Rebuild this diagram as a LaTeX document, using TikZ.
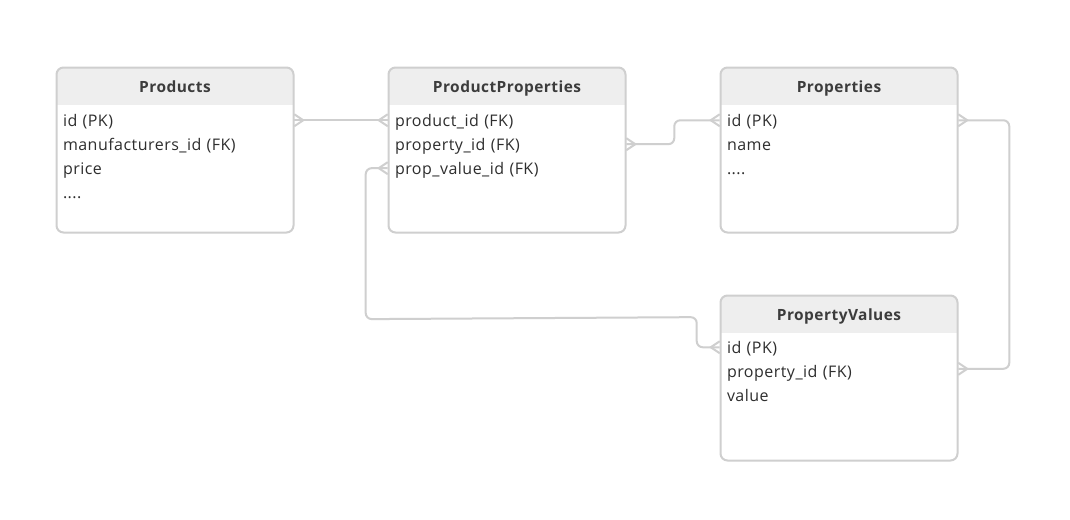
\documentclass[tikz,border=0pt]{standalone}
\usepackage{fontspec}
\setmainfont[LetterSpace=3]{Open Sans}
\usepackage{xcolor}
\usepackage{tikz}
\usetikzlibrary{calc,positioning}
\definecolor{edge}{HTML}{CFCFCF}
\definecolor{headfill}{HTML}{EEEEEE}
\definecolor{ink}{HTML}{2E2E2E}
\definecolor{headink}{HTML}{3C3C3C}
\tikzset{
  entity/.style={draw=edge, line width=1.5pt, rounded corners=5.25pt, inner sep=0pt,
    minimum width=177.75pt, minimum height=123.75pt,
    path picture={\fill[headfill, sharp corners] (path picture bounding box.north west)
      rectangle ([yshift=-28.1pt]path picture bounding box.north east);}},
  title/.style={minimum height=28.1pt, inner sep=0pt, text height=12pt, text depth=2pt,
    text=headink, font=\bfseries\fontsize{11.6}{13}\selectfont},
  row/.style={text width=168pt, inner xsep=5.25pt, inner ysep=0pt, align=left,
    text height=11.7pt, text depth=2.6pt, minimum height=17.55pt, text=ink,
    font=\fontsize{12}{14}\selectfont},
  rel/.style={draw=edge, line width=1.5pt, rounded corners=4.5pt},
  crowL/.pic={\draw[draw=edge, line width=1.5pt] (0,-6) -- (-9,0) -- (0,6);},
  crowR/.pic={\draw[draw=edge, line width=1.5pt] (0,-6) -- (9,0) -- (0,6);}
}
\begin{document}
\begin{tikzpicture}[x=0.75pt, y=-0.75pt]
  \path[use as bounding box, fill=white] (0,0) rectangle (1070,519);

  % Products
  \node[entity] (prod) at (175,150) {};
  \node[title, below=0pt of prod.north] (prod-t) {Products};
  \node[row, below=2.85pt of prod-t] (prod-1) {id (PK)};
  \node[row, below=0pt of prod-1] (prod-2) {manufacturers\_id (FK)};
  \node[row, below=0pt of prod-2] (prod-3) {price};
  \node[row, below=0pt of prod-3] (prod-4) {....};

  % ProductProperties
  \node[entity] (pp) at (507,150) {};
  \node[title, below=0pt of pp.north] (pp-t) {ProductProperties};
  \node[row, below=2.85pt of pp-t] (pp-1) {product\_id (FK)};
  \node[row, below=0pt of pp-1] (pp-2) {property\_id (FK)};
  \node[row, below=0pt of pp-2] (pp-3) {prop\_value\_id (FK)};

  % Properties
  \node[entity] (prop) at (839,150) {};
  \node[title, below=0pt of prop.north] (prop-t) {Properties};
  \node[row, below=2.85pt of prop-t] (prop-1) {id (PK)};
  \node[row, below=0pt of prop-1] (prop-2) {name};
  \node[row, below=0pt of prop-2] (prop-3) {....};

  % PropertyValues
  \node[entity] (pv) at (839,378) {};
  \node[title, below=0pt of pv.north] (pv-t) {PropertyValues};
  \node[row, below=2.1pt of pv-t] (pv-1) {id (PK)};
  \node[row, below=0pt of pv-1] (pv-2) {property\_id (FK)};
  \node[row, below=0pt of pv-2] (pv-3) {value};

  % relations
  \draw[rel] (prod-1.east) -- (pp-1.west);
  \draw[rel] (pp-2.east) -- ++(48,0) |- (prop-1.west);
  \draw[rel] (prop-1.east) -- ++(51,0) |- ([yshift=1.8pt]pv-2.east);
  \draw[rel] (pp-3.west) -- ++(-22,0) -- ++(0,151) -- ++(331,-2) |- (pv-1.west);

  \pic at (prod-1.east) {crowR};
  \pic at (pp-1.west) {crowL};
  \pic at (pp-2.east) {crowR};
  \pic at (prop-1.west) {crowL};
  \pic at (prop-1.east) {crowR};
  \pic at ([yshift=1.8pt]pv-2.east) {crowR};
  \pic at (pp-3.west) {crowL};
  \pic at (pv-1.west) {crowL};
\end{tikzpicture}
\end{document}
